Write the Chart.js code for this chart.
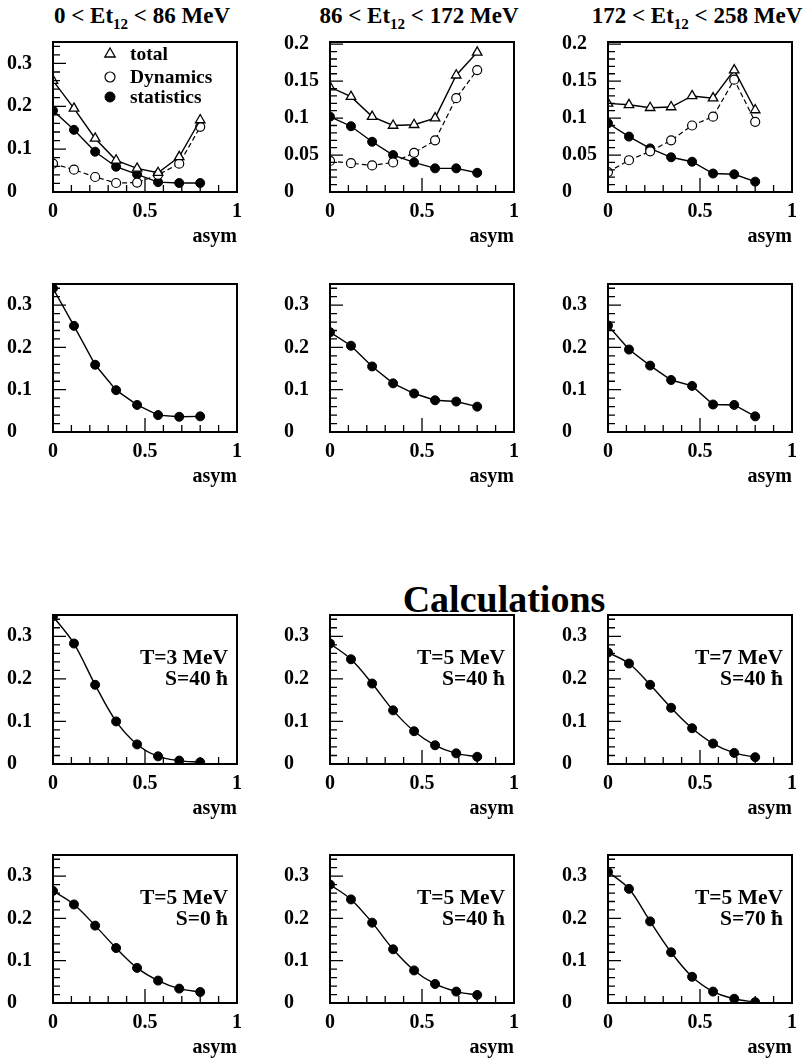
<!DOCTYPE html>
<html><head><meta charset="utf-8">
<script src="https://cdn.jsdelivr.net/npm/chart.js@4.4.1/dist/chart.umd.min.js"></script>
<style>
html,body{margin:0;padding:0;background:#fff;}
#page{position:relative;width:807px;height:1063px;overflow:hidden;background:#fff;font-family:"Liberation Serif","Times New Roman",serif;font-weight:bold;color:#000;}
#page canvas{position:absolute;}
.ttl{position:absolute;white-space:nowrap;font-size:23px;line-height:23px;text-align:center;width:260px;top:4px;}
.ttl sub{font-size:15px;line-height:0;vertical-align:baseline;position:relative;top:6px;}
#calc{position:absolute;font-size:38px;line-height:38px;width:400px;left:304px;top:580px;text-align:center;white-space:nowrap;}
</style></head>
<body><div id="page"><div id="calc">Calculations</div></div>
<script>
// ---------- data ----------
const asym = [0, 0.114, 0.229, 0.343, 0.457, 0.571, 0.686, 0.8];
const binEdges = [["0", "86"], ["86", "172"], ["172", "258"]];
const xTickValues = [0, 0.5, 1];
const yTicksWide = [0, 0.1, 0.2, 0.3];
const yTicksNarrow = [0, 0.05, 0.1, 0.15, 0.2];
const seriesNames = ["total", "Dynamics", "statistics"];

const bin1Total      = [0.260, 0.195, 0.125, 0.074, 0.055, 0.045, 0.082, 0.168];
const bin1Dynamics   = [0.066, 0.052, 0.035, 0.021, 0.022, 0.040, 0.066, 0.152];
const bin1Statistics = [0.190, 0.145, 0.094, 0.059, 0.041, 0.023, 0.021, 0.021];
const bin2Total      = [0.142, 0.129, 0.102, 0.090, 0.091, 0.100, 0.158, 0.189];
const bin2Dynamics   = [0.042, 0.039, 0.036, 0.040, 0.053, 0.070, 0.127, 0.165];
const bin2Statistics = [0.102, 0.089, 0.068, 0.050, 0.040, 0.032, 0.032, 0.026];
const bin3Total      = [0.120, 0.118, 0.114, 0.115, 0.130, 0.127, 0.165, 0.111];
const bin3Dynamics   = [0.027, 0.043, 0.055, 0.070, 0.090, 0.102, 0.152, 0.095];
const bin3Statistics = [0.093, 0.075, 0.059, 0.047, 0.041, 0.025, 0.024, 0.014];

const bin1Exp = [0.340, 0.251, 0.159, 0.099, 0.064, 0.040, 0.036, 0.037];
const bin2Exp = [0.236, 0.204, 0.155, 0.115, 0.091, 0.075, 0.072, 0.060];
const bin3Exp = [0.252, 0.195, 0.157, 0.123, 0.109, 0.065, 0.064, 0.037];

const calcT3S40  = [0.347, 0.283, 0.186, 0.100, 0.046, 0.018, 0.008, 0.004];
const calcT5S40  = [0.283, 0.246, 0.189, 0.126, 0.077, 0.044, 0.025, 0.017];
const calcT7S40  = [0.262, 0.236, 0.186, 0.132, 0.084, 0.048, 0.026, 0.016];
const calcT5S0   = [0.265, 0.233, 0.183, 0.130, 0.083, 0.053, 0.034, 0.026];
const calcT5S40b = [0.280, 0.245, 0.190, 0.127, 0.077, 0.045, 0.027, 0.019];
const calcT5S70  = [0.310, 0.270, 0.193, 0.120, 0.062, 0.027, 0.010, 0.002];
const calcTemps = ["3", "5", "7", "5", "5", "5"];
const calcSpins = ["40", "40", "40", "0", "40", "70"];

// ---------- layout ----------
const page = document.getElementById('page');
const colLeft = [53, 330, 608];
const rowTop = [42, 284, 615, 855];
const rowH = [150, 148, 149, 148];
const FONT = "'Liberation Serif', 'Times New Roman', serif";

binEdges.forEach((e, c) => {
  const d = document.createElement('div');
  d.className = 'ttl';
  d.style.left = (colLeft[c] + 92 - 3 - 130) + 'px';
  d.innerHTML = e[0] + ' &lt; Et<sub>12</sub> &lt; ' + e[1] + ' MeV';
  page.appendChild(d);
});

const styleTotal = {label: seriesNames[0], borderColor: '#000', borderWidth: 1.4, pointStyle: 'triangle', pointRadius: 5.5,
  pointBackgroundColor: '#fff', pointBorderColor: '#000', pointBorderWidth: 1.3, tension: 0, fill: false};
const styleDyn = {label: seriesNames[1], borderColor: '#000', borderWidth: 1.2, borderDash: [5, 3], pointStyle: 'circle', pointRadius: 4.5,
  pointBackgroundColor: '#fff', pointBorderColor: '#000', pointBorderWidth: 1.2, tension: 0, fill: false};
const styleStat = {label: seriesNames[2], borderColor: '#000', borderWidth: 1.4, pointStyle: 'circle', pointRadius: 4.5,
  pointBackgroundColor: '#000', pointBorderColor: '#000', pointBorderWidth: 1, tension: 0, fill: false};

function ds(values, style, extra) {
  return Object.assign({data: asym.map((x, i) => ({x: x, y: values[i]}))}, style, extra || {});
}

const frameTicks = {
  id: 'frameTicks',
  afterDraw(chart, args, o) {
    const {ctx, chartArea: a, scales: {x, y}} = chart;
    ctx.save();
    ctx.strokeStyle = '#000';
    ctx.lineWidth = 1.3;
    ctx.setLineDash([]);
    ctx.beginPath();
    for (let i = 1; i < 10; i++) {
      const px = x.getPixelForValue(i / 10);
      const len = (i % 5 === 0) ? 14 : 7;
      ctx.moveTo(px, a.bottom); ctx.lineTo(px, a.bottom - len);
    }
    const n = Math.floor(y.max / o.yMinor + 1e-6);
    for (let i = 1; i <= n; i++) {
      const v = i * o.yMinor;
      const py = y.getPixelForValue(v);
      const r = v / o.yMajor;
      const len = Math.abs(r - Math.round(r)) < 1e-6 ? 13 : 7;
      ctx.moveTo(a.left, py); ctx.lineTo(a.left + len, py);
    }
    ctx.stroke();
    ctx.lineWidth = 2;
    ctx.strokeRect(a.left, a.top, a.right - a.left, a.bottom - a.top);
    if (o.legend) {
      ctx.font = 'bold 19.5px ' + FONT;
      ctx.textBaseline = 'middle';
      ctx.textAlign = 'left';
      ctx.fillStyle = '#000';
      const ys = [12, 35, 55];
      chart.data.datasets.forEach((d, i) => {
        const yy = a.top + ys[i];
        ctx.fillStyle = d.pointBackgroundColor;
        ctx.strokeStyle = d.pointBorderColor;
        ctx.lineWidth = d.pointBorderWidth;
        Chart.helpers.drawPoint(ctx, {pointStyle: d.pointStyle, radius: d.pointRadius + 0.5, borderWidth: d.pointBorderWidth, rotation: 0}, a.left + 57, yy);
        ctx.fillStyle = '#000';
        ctx.fillText(d.label, a.left + 77, yy + 1);
      });
    }
    if (o.note) {
      ctx.font = 'bold 21.5px ' + FONT;
      ctx.textBaseline = 'middle';
      ctx.textAlign = 'right';
      ctx.fillStyle = '#000';
      ctx.fillText(o.note[0], a.right - 9, a.top + 43);
      ctx.fillText(o.note[1], a.right - 9, a.top + 64);
    }
    ctx.restore();
  }
};

function makeChart(col, row, datasets, yMax, yTicks, yMinor, yMajor, extra) {
  const W = 252, H = 42 + rowH[row] + 60;
  const cv = document.createElement('canvas');
  cv.width = W; cv.height = H;
  cv.style.left = (colLeft[col] - 53) + 'px';
  cv.style.top = (rowTop[row] - 42) + 'px';
  cv.style.width = W + 'px'; cv.style.height = H + 'px';
  page.appendChild(cv);
  const tickFont = {family: FONT, weight: 'bold', size: 20};
  new Chart(cv, {
    type: 'line',
    data: {datasets: datasets},
    plugins: [frameTicks],
    options: {
      responsive: false, animation: false, devicePixelRatio: 1,
      layout: {padding: {left: 7, right: 15, top: 42, bottom: 0}},
      plugins: {legend: {display: false}, tooltip: {enabled: false},
        frameTicks: Object.assign({yMinor: yMinor, yMajor: yMajor}, extra || {})},
      scales: {
        x: {type: 'linear', min: 0, max: 1,
          afterFit: s => { s.height = 60; },
          afterBuildTicks: s => { s.ticks = xTickValues.map(v => ({value: v})); },
          grid: {display: false, drawTicks: false}, border: {display: false},
          ticks: {padding: 8, font: tickFont, color: '#000', maxRotation: 0, autoSkip: false, callback: v => String(v)},
          title: {display: true, text: 'asym', align: 'end', color: '#000', font: {family: FONT, weight: 'bold', size: 20}, padding: {top: 0, bottom: 3}}
        },
        y: {type: 'linear', min: 0, max: yMax,
          afterFit: s => { s.width = 46; },
          afterBuildTicks: s => { s.ticks = yTicks.map(v => ({value: v})); },
          grid: {display: false, drawTicks: false}, border: {display: false},
          ticks: {padding: 0, crossAlign: 'far', font: tickFont, color: '#000', autoSkip: false, callback: v => String(v)}
        }
      }
    }
  });
}

// row 1: decomposition
makeChart(0, 0, [ds(bin1Total, styleTotal), ds(bin1Dynamics, styleDyn), ds(bin1Statistics, styleStat)], 0.35, yTicksWide, 0.02, 0.1, {legend: true});
makeChart(1, 0, [ds(bin2Total, styleTotal), ds(bin2Dynamics, styleDyn), ds(bin2Statistics, styleStat)], 0.203, yTicksNarrow, 0.01, 0.05);
makeChart(2, 0, [ds(bin3Total, styleTotal), ds(bin3Dynamics, styleDyn), ds(bin3Statistics, styleStat)], 0.203, yTicksNarrow, 0.01, 0.05);
// row 2: experimental
[bin1Exp, bin2Exp, bin3Exp].forEach((v, c) => {
  makeChart(c, 1, [ds(v, styleStat, {label: 'data'})], 0.35, yTicksWide, 0.02, 0.1);
});
// rows 3-4: calculations
[calcT3S40, calcT5S40, calcT7S40, calcT5S0, calcT5S40b, calcT5S70].forEach((v, i) => {
  makeChart(i % 3, 2 + Math.floor(i / 3), [ds(v, styleStat, {label: 'calc', tension: 0.35})], 0.35, yTicksWide, 0.02, 0.1,
    {note: ['T=' + calcTemps[i] + ' MeV', 'S=' + calcSpins[i] + ' \u0127']});
});
</script>
</body></html>
